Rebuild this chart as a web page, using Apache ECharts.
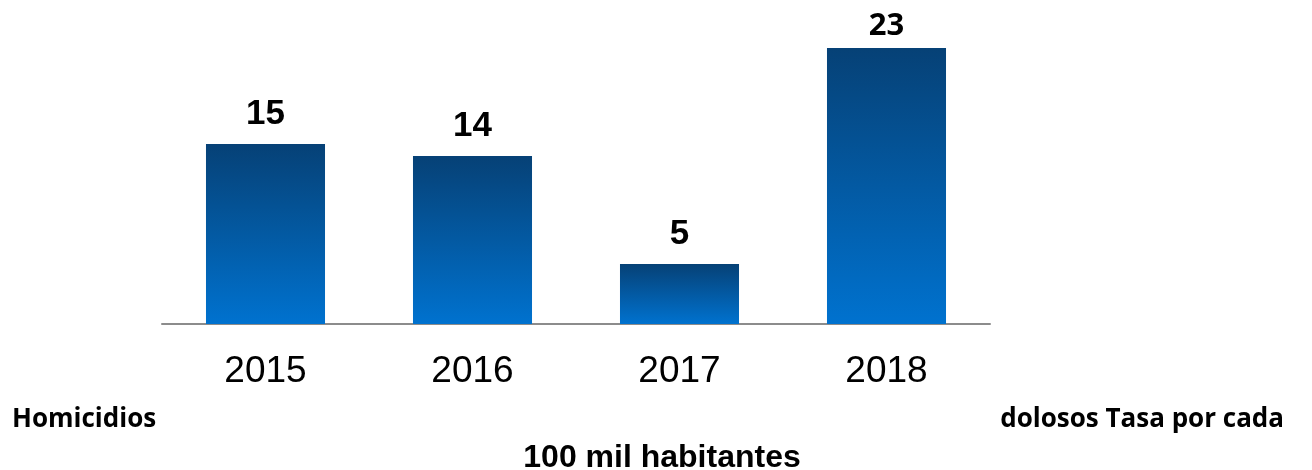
<!DOCTYPE html>
<html><head><meta charset="utf-8">
<script src="https://cdn.jsdelivr.net/npm/echarts@6/dist/echarts.min.js"></script>
<style>html,body{margin:0;padding:0;background:#fff}#c{width:1312px;height:470px}</style>
</head><body><div id="c"></div>
<script>
const categories = ['2015', '2016', '2017', '2018'];
const values = [15, 14, 5, 23];
const titleLeft = 'Homicidios';
const titleRight = 'dolosos Tasa por cada';
const titleBottom = '100 mil habitantes';

const chart = echarts.init(document.getElementById('c'));
const grad = new echarts.graphic.LinearGradient(0, 0, 0, 1, [
  {offset: 0, color: '#064176'},
  {offset: 1, color: '#0072cf'}
]);
chart.setOption({
  animation: false,
  grid: {left: 162, right: 322, top: 24, bottom: 146},
  xAxis: {
    type: 'category', data: categories,
    axisLine: {lineStyle: {color: '#8c8c8c', width: 2}},
    axisTick: {show: false},
    axisLabel: {fontFamily: 'Liberation Sans', fontSize: 37, color: '#000', margin: 29}
  },
  yAxis: {type: 'value', min: 0, max: 25, show: false, splitLine: {show: false}},
  series: [{
    type: 'bar', barWidth: '57.5%',
    data: values.map((v, i) => ({
      value: v,
      label: i === 3 ? {fontFamily: 'Open Sans', fontWeight: 'bold', fontSize: 31, distance: 6} : {}
    })),
    itemStyle: {color: grad},
    label: {show: true, position: 'top', distance: 12, fontFamily: 'Liberation Sans', fontWeight: 'bold', fontSize: 35, color: '#000'}
  }],
  graphic: [
    {type: 'text', x: 12, y: 420, style: {text: titleLeft, font: 'bold 26px "Open Sans"', fill: '#000', align: 'left', verticalAlign: 'middle'}},
    {type: 'text', x: 1284, y: 420, style: {text: titleRight, font: 'bold 26px "Open Sans"', fill: '#000', align: 'right', verticalAlign: 'middle'}},
    {type: 'text', x: 662, y: 458, style: {text: titleBottom, font: 'bold 32px "Liberation Sans"', fill: '#000', align: 'center', verticalAlign: 'middle'}}
  ]
});
</script></body></html>
